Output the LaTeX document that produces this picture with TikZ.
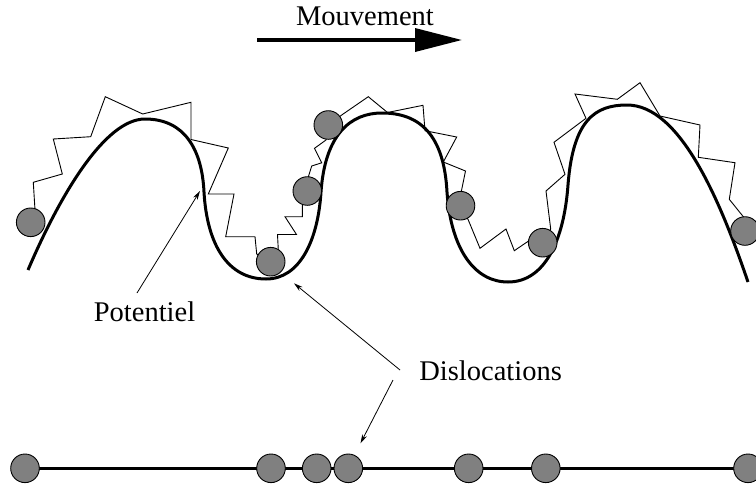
\documentclass[tikz,border=0pt]{standalone}
\usepackage{fontspec}
\setmainfont{Liberation Serif}
\usetikzlibrary{arrows.meta}
\definecolor{ballgray}{RGB}{128,128,128}
\begin{document}
\begin{tikzpicture}[x=1pt,y=-1pt,
  ball/.style={circle,draw=black,line width=0.9pt,fill=ballgray,minimum size=28.6pt,inner sep=0pt},
  lbl/.style={font=\fontsize{28.5}{34}\selectfont,inner sep=0pt,anchor=base},
  leader/.style={line width=0.8pt,-{Stealth[length=9pt,width=5pt]}},
  pot/.style={line width=3pt,line cap=butt},
  zig/.style={line width=0.9pt,line join=miter},
  chain/.style={line width=2.5pt},
  move/.style={line width=3.5pt,-{Triangle[length=47pt,width=23pt]}}
]
\useasboundingbox (0,0) rectangle (756,488);
\clip (0,0) rectangle (756,488);

% title arrow
\node[lbl] (mv) at (365,25) {Mouvement};
\coordinate (mvL) at (257,40);
\coordinate (mvR) at (462,40);
\draw[move] (mvL) -- (mvR);

% potential curve
\draw[pot] (28,270) .. controls (60,195) and (105,119) .. (145,119)
  .. controls (185,119) and (202,150) .. (204,192)
  .. controls (207,245) and (228,279) .. (266,279)
  .. controls (300,279) and (318,240) .. (321,192)
  .. controls (325,135) and (350,113) .. (382,113)
  .. controls (420,113) and (444,135) .. (447,192)
  .. controls (451,250) and (475,282) .. (508,282)
  .. controls (545,282) and (564,240) .. (568,185)
  .. controls (573,120) and (595,105) .. (627,105)
  .. controls (680,105) and (720,200) .. (748,282);

% top dislocations
\coordinate (c1) at (30.7,222.3);
\coordinate (c2) at (270.7,261.7);
\coordinate (c3) at (307.3,191);
\coordinate (c4) at (328.3,125);
\coordinate (c5) at (460.5,205.7);
\coordinate (c6) at (542.7,242.7);
\coordinate (c7) at (745,231);

\draw[zig] (c1) -- (35,210) -- (33.3,182.3) -- (62.3,174) -- (53.3,139) -- (90.7,136.7)
  -- (105.3,96.7) -- (142.7,114) -- (191,102.3) -- (191,139.5) -- (228.3,148)
  -- (208.3,194) -- (234,194) -- (225.7,236.7) -- (255,236.7) -- (256.7,254) -- (c2)
  -- (278.3,250) -- (277.5,234.5) -- (296.5,234.5) -- (285,216.7) -- (302.3,216.7)
  -- (302.3,206) -- (c3)
  -- (308.3,177) -- (311.7,166) -- (321.7,162.8) -- (314.5,148.3) -- (326,140) -- (c4)
  -- (341.7,115) -- (368.3,96.7) -- (387.5,112.5) -- (423,105.3) -- (425,130.7)
  -- (456.7,137) -- (443.3,162) -- (465.5,171) -- (461.2,192) -- (c5)
  -- (468.3,220) -- (480,248.3) -- (506,229) -- (514.3,250.7) -- (530,240) -- (c6)
  -- (550.7,229) -- (546,191) -- (565,174.3) -- (554,142.3) -- (586,118.3) -- (575,94)
  -- (617.3,99.3) -- (640,82.7) -- (660,116) -- (700,125) -- (698.3,157.3)
  -- (735,162.7) -- (729.3,199.3) -- (743.3,216.7) -- (c7);

\foreach \c in {c1,c2,c3,c4,c5,c6,c7}
  \node[ball] (t\c) at (\c) {};

% labels and leaders
\node[lbl] (pot) at (144.5,321.7) {Potentiel};
\node[lbl] (dis) at (490.6,380) {Dislocations};
\coordinate (potS) at (137,293);
\coordinate (potT) at (200,191);
\draw[leader] (potS) -- (potT);
\coordinate (disS1) at (400,370);
\coordinate (disT1) at (294,283.3);
\draw[leader] (disS1) -- (disT1);
\coordinate (disS2) at (393,380);
\coordinate (disT2) at (360.5,443.3);
\draw[leader] (disS2) -- (disT2);

% bottom chain
\coordinate (b1) at (25,468.3);
\coordinate (b2) at (271,468.3);
\coordinate (b3) at (316.7,468.3);
\coordinate (b4) at (348.3,468.3);
\coordinate (b5) at (468.7,468.3);
\coordinate (b6) at (545.8,468.3);
\coordinate (b7) at (748,468.3);
\draw[chain] (b1) -- (b7);
\foreach \b in {b1,b2,b3,b4,b5,b6,b7}
  \node[ball] (n\b) at (\b) {};
\end{tikzpicture}
\end{document}
